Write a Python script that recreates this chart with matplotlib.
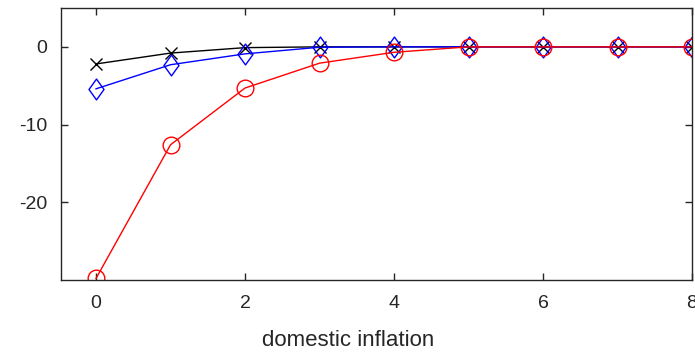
import matplotlib
matplotlib.use("Agg")
import matplotlib.pyplot as plt
from matplotlib.path import Path

plt.rcParams['font.family'] = ['Liberation Sans', 'DejaVu Sans']
plt.rcParams['axes.unicode_minus'] = False

x = [0, 1, 2, 3, 4, 5, 6, 7, 8]
black_x = [-2.2, -0.8, -0.1, 0, 0, 0, 0, 0, 0]
blue_d = [-5.4, -2.3, -0.9, -0.05, 0, 0, 0, 0, 0]
red_o = [-29.8, -12.6, -5.3, -2.1, -0.7, 0, 0, 0, 0]
xticks = [0, 2, 4, 6, 8]
yticks = [-20, -10, 0]
xlabel = "domestic inflation"

diamond = Path([(0, 1), (0.72, 0), (0, -1), (-0.72, 0), (0, 1)],
               [Path.MOVETO, Path.LINETO, Path.LINETO, Path.LINETO, Path.CLOSEPOLY])

fig = plt.figure(figsize=(6.95, 3.53), dpi=100)
ax = fig.add_axes([61/695, 1 - 280/353, (692-61)/695, (280-8)/353])

ax.plot(x, black_x, color='black', lw=1, marker='x', ms=9, mew=1, mfc='none')
ax.plot(x, blue_d, color='blue', lw=1, marker=diamond, ms=15, mew=1, mfc='none')
ax.plot(x, red_o, color='red', lw=1, marker='o', ms=12, mew=1, mfc='none')

ax.set_xlim(-0.47, 8)
ax.set_ylim(-30, 5)
ax.set_xticks(xticks)
ax.set_yticks(yticks)
ax.tick_params(direction='in', top=True, right=True, length=5, width=1,
               colors='#262626', labelsize=14)
ax.tick_params(axis='x', pad=11)
ax.tick_params(axis='y', pad=10)
for s in ax.spines.values():
    s.set_color('#262626')
    s.set_linewidth(1)
fig.text(348/695, 1 - 341/353, xlabel, fontsize=16, color='#262626',
         ha='center', va='center')

fig.savefig("out.png", dpi=100)
